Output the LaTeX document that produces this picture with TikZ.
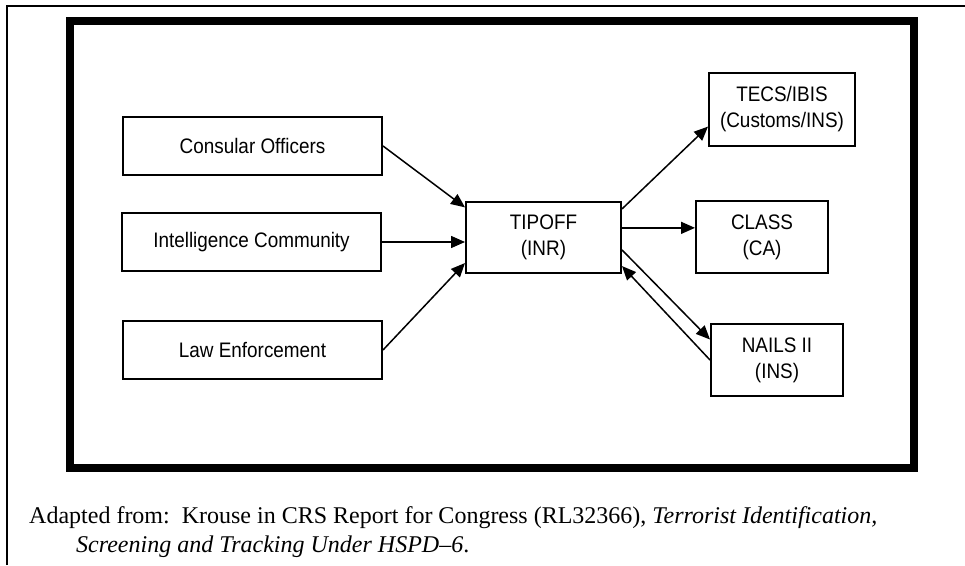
\documentclass[tikz,border=0pt]{standalone}
\usepackage{fontspec}
\setmainfont{Liberation Serif}
\newfontfamily\boxfont{Liberation Sans}[FakeStretch=0.9]
\usetikzlibrary{arrows.meta}
\begin{document}
\begin{tikzpicture}[x=1pt,y=-1pt,
  boxnode/.style={draw, line width=2pt, rectangle, inner sep=0pt, align=center,
    font=\boxfont\fontsize{21}{26}\selectfont},
  conn/.style={line width=1.5pt, -{Triangle[length=14pt,width=12pt]}},
  captext/.style={inner sep=0pt, anchor=base west, font=\fontsize{24}{28}\selectfont}]
\useasboundingbox (0,0) rectangle (965,565);
% outer thin frame
\draw[line width=2pt] (7,565) -- (7,6) -- (965,6);
% thick frame
\draw[line width=8pt] (70,21) rectangle (914,467.5);
% nodes
\node[boxnode, minimum width=259pt, minimum height=58pt] (cons) at (252.5,146) {Consular Officers};
\node[boxnode, minimum width=259pt, minimum height=58pt] (intel) at (251.5,242) {Intelligence Community};
\node[boxnode, minimum width=259pt, minimum height=58pt] (law) at (252.5,350) {Law Enforcement};
\node[boxnode, minimum width=155pt, minimum height=71pt] (tip) at (543.5,237.5) {TIPOFF\\(INR)};
\node[boxnode, minimum width=146pt, minimum height=73pt] (tecs) at (782,109.5) {TECS/IBIS\\(Customs/INS)};
\node[boxnode, minimum width=132pt, minimum height=72pt] (class) at (762,237) {CLASS\\(CA)};
\node[boxnode, minimum width=132pt, minimum height=72pt] (nails) at (777,360) {NAILS II\\(INS)};
% connectors
\draw[conn] (cons.east) -- (tip.159);
\draw[conn] (intel.east) -- (intel.east -| tip.west);
\draw[conn] (law.east) -- (tip.198);
\draw[conn] (tip.20) -- (tecs.193.5);
\draw[conn] (tip.7) -- (tip.7 -| class.west);
\draw[conn] (tip.351.5) -- (nails.163);
\draw[conn] (nails.west) -- (tip.340.5);
% caption
\node[captext] (cap1) at (29,523) {Adapted from:\ \ Krouse in CRS Report for Congress (RL32366), \textit{Terrorist Identification,}};
\node[captext] (cap2) at (76,552) {\textit{Screening and Tracking Under HSPD–6}.};
\end{tikzpicture}
\end{document}
